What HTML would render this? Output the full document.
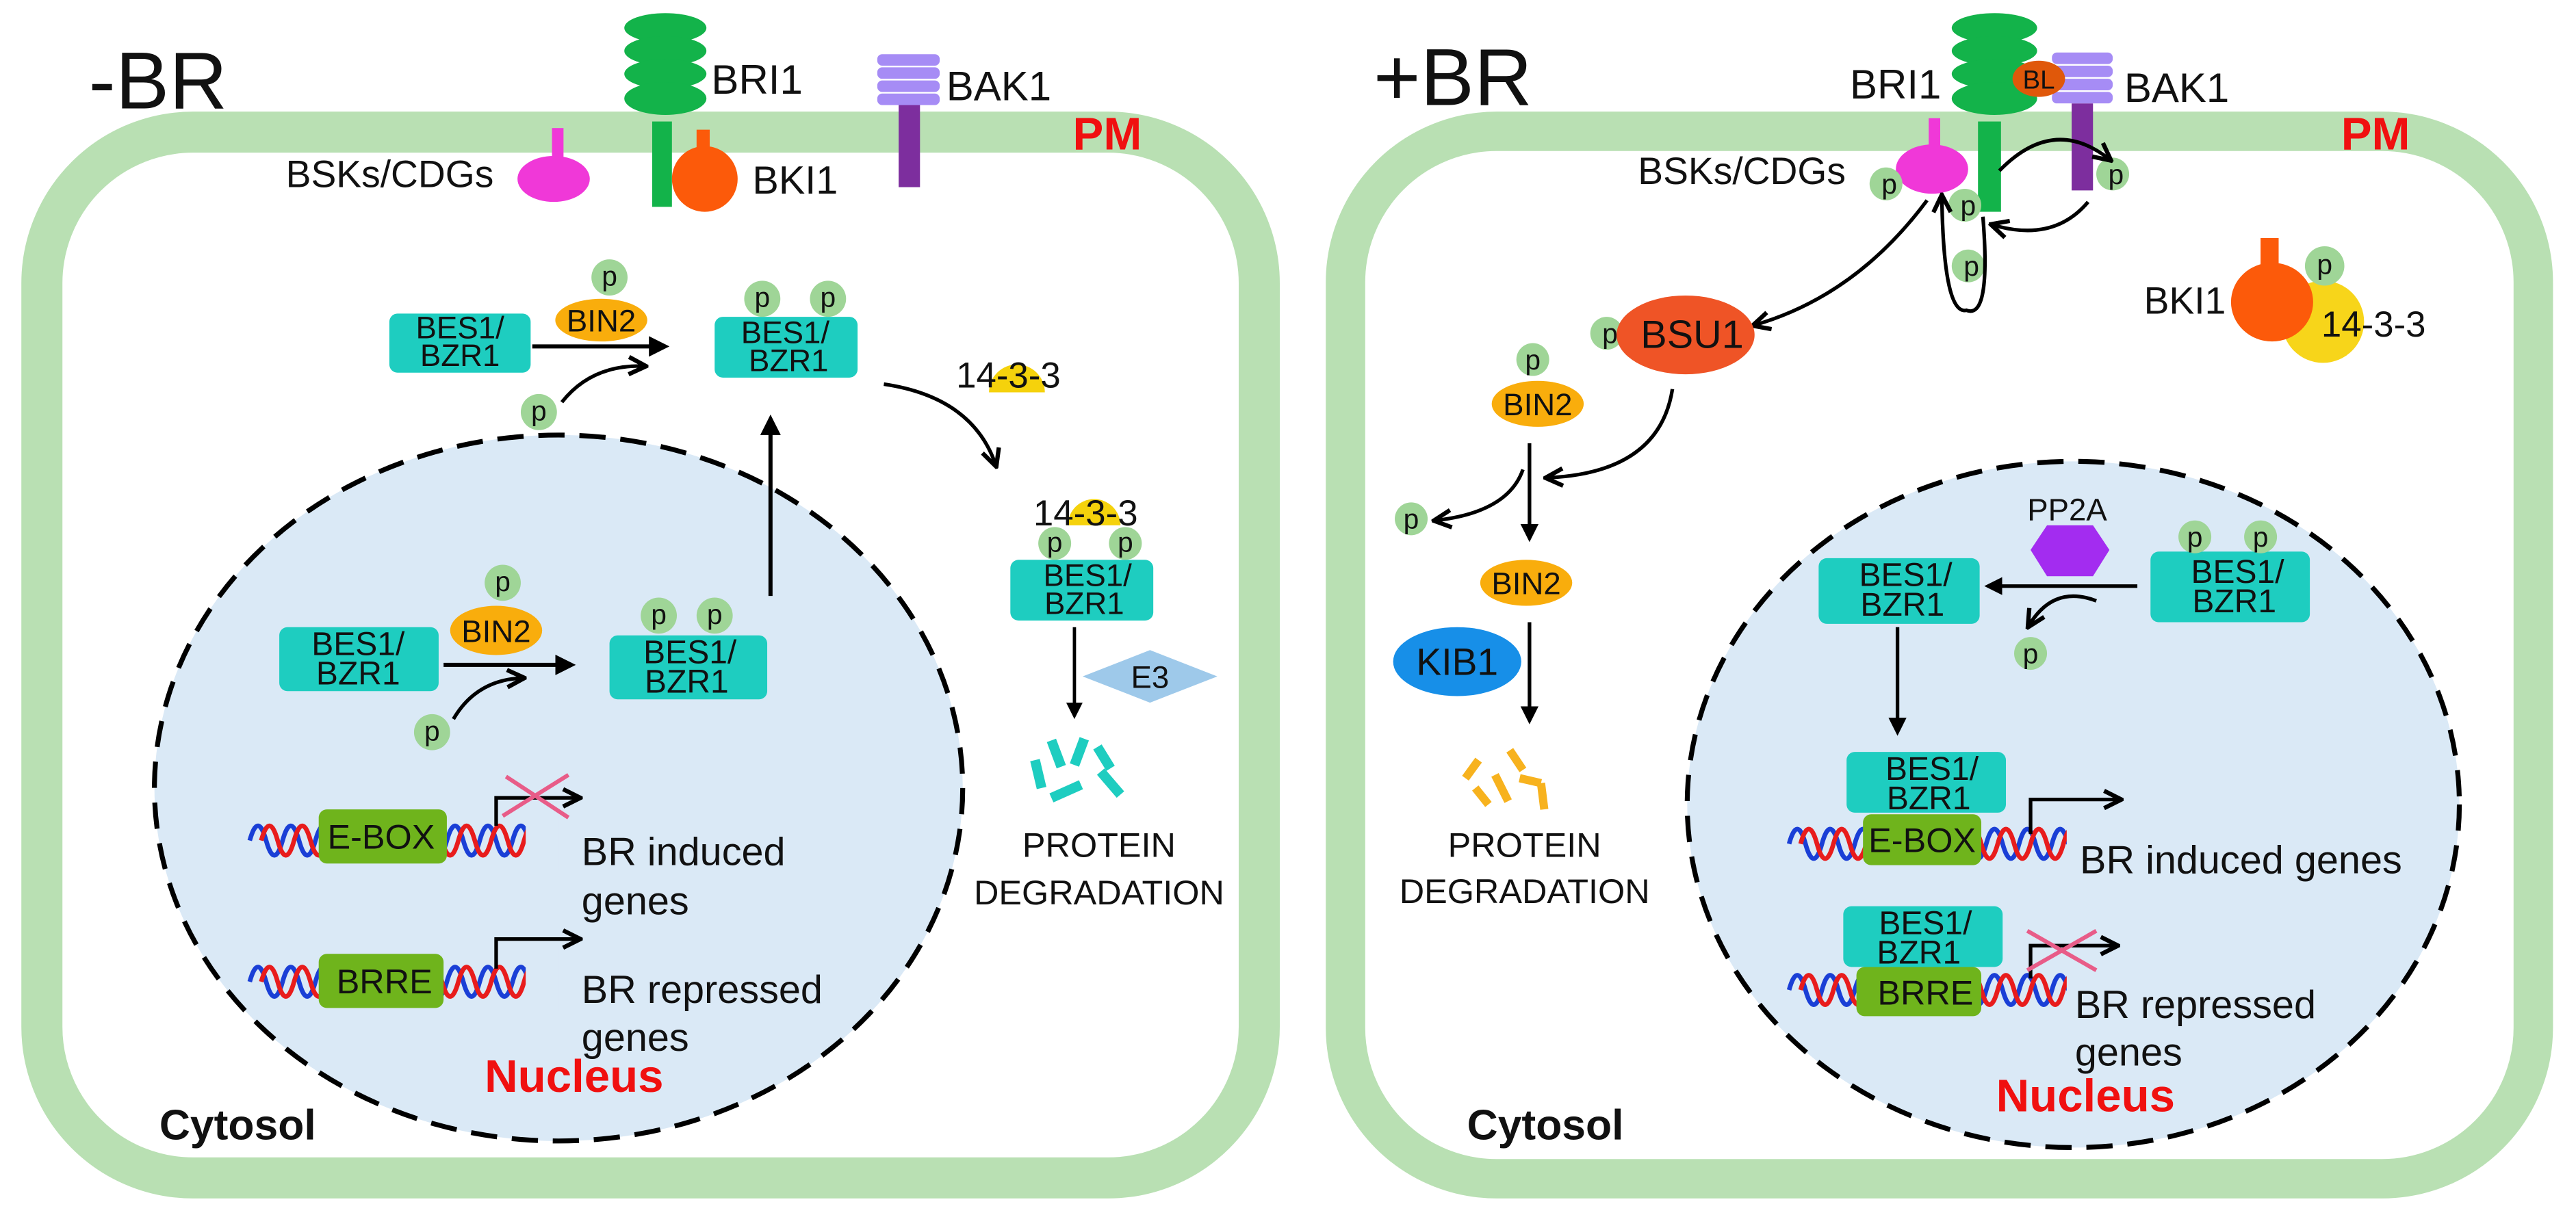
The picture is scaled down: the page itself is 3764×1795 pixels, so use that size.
<!DOCTYPE html>
<html><head><meta charset="utf-8"><style>
html,body{margin:0;padding:0;background:#fff;}
svg{display:block;}
text{font-family:"Liberation Sans",Arial,sans-serif;fill:#111;}
</style></head><body>
<svg width="3764" height="1795" viewBox="0 0 1568 748" preserveAspectRatio="none" xmlns="http://www.w3.org/2000/svg">
<defs>
<marker id="a" viewBox="0 0 10 10" refX="8" refY="5" markerWidth="5" markerHeight="5" orient="auto"><path d="M0,0 L10,5 L0,10 z" fill="#000"/></marker>
<marker id="o" viewBox="0 0 10 10" refX="8" refY="5" markerWidth="6" markerHeight="6" orient="auto"><path d="M1,1 L9,5 L1,9" fill="none" stroke="#000" stroke-width="2"/></marker>
<path id="hx" d="M0,0 q5,-18 10,0 t10,0 t10,0 t10,0 t10,0 t10,0 t10,0 t10,0 t10,0 t10,0 t10,0 t10,0 t10,0 t10,0 t10,0 t10,0 t10,0"/>
</defs>

<!-- ===== LEFT CELL ===== -->
<rect x="25.5" y="80.5" width="741" height="637" rx="92" fill="#fff" stroke="#b9e0b3" stroke-width="25"/>
<ellipse cx="340" cy="480" rx="246" ry="215" fill="#dae9f6" stroke="#000" stroke-width="3" stroke-dasharray="16,9"/>
<text x="54" y="66" font-size="49">-BR</text>
<!-- BRI1 -->
<rect x="397" y="74" width="12" height="52" fill="#13b34a"/>
<g fill="#13b34a"><ellipse cx="405" cy="17" rx="25" ry="9"/><ellipse cx="405" cy="31" rx="25" ry="9"/><ellipse cx="405" cy="45" rx="25" ry="9"/><ellipse cx="405" cy="60" rx="25" ry="10"/></g>
<text x="433" y="57" font-size="25">BRI1</text>
<!-- BKI1 -->
<rect x="424" y="79" width="8" height="16" fill="#fc5a0a"/>
<circle cx="429" cy="109" r="20" fill="#fc5a0a"/>
<text x="458" y="118" font-size="24">BKI1</text>
<!-- BAK1 -->
<rect x="547" y="63" width="13" height="51" fill="#7d2e9e"/>
<g fill="#a68cf5"><rect x="534" y="33" width="38" height="7" rx="3"/><rect x="534" y="41" width="38" height="7" rx="3"/><rect x="534" y="49" width="38" height="7" rx="3"/><rect x="534" y="57" width="38" height="7" rx="3"/></g>
<text x="576" y="61" font-size="25">BAK1</text>
<text x="653" y="91" font-size="28" font-weight="bold" style="fill:#f01010">PM</text>
<!-- BSK -->
<rect x="336" y="78" width="7" height="20" fill="#f038d8"/>
<ellipse cx="337" cy="109" rx="22" ry="14" fill="#f038d8"/>
<text x="174" y="114" font-size="23">BSKs/CDGs</text>

<!-- top cytosol complex -->
<rect x="237" y="191" width="86" height="36" rx="5" fill="#1ecdc0"/>
<text x="280" y="206" font-size="19" text-anchor="middle">BES1/</text><text x="280" y="223" font-size="19" text-anchor="middle">BZR1</text>
<circle cx="371" cy="169" r="11" fill="#9fd597"/><text x="371" y="174" font-size="17" text-anchor="middle">p</text>
<ellipse cx="366" cy="195" rx="28" ry="13" fill="#f9ad0c"/><text x="366" y="202" font-size="19" text-anchor="middle">BIN2</text>
<line x1="324" y1="211" x2="405" y2="211" stroke="#000" stroke-width="2.5" marker-end="url(#a)"/>
<circle cx="328" cy="251" r="11" fill="#9fd597"/><text x="328" y="256" font-size="17" text-anchor="middle">p</text>
<path d="M342,245 Q360,222 392,223" fill="none" stroke="#000" stroke-width="2.2" marker-end="url(#o)"/>
<rect x="435" y="193" width="87" height="37" rx="5" fill="#1ecdc0"/>
<circle cx="464" cy="182" r="11" fill="#9fd597"/><text x="464" y="187" font-size="17" text-anchor="middle">p</text>
<circle cx="504" cy="182" r="11" fill="#9fd597"/><text x="504" y="187" font-size="17" text-anchor="middle">p</text>
<text x="478" y="209" font-size="19" text-anchor="middle">BES1/</text><text x="480" y="226" font-size="19" text-anchor="middle">BZR1</text>
<path d="M538,234 Q592,242 606,283" fill="none" stroke="#000" stroke-width="2.2" marker-end="url(#o)"/>
<path d="M602,239 A17,17 0 0 1 636,239 z" fill="#f5d20c"/>
<text x="582" y="236" font-size="22">14-3-3</text>
<!-- degraded complex -->
<path d="M650,320 A16,16 0 0 1 682,320 z" fill="#f5d20c"/>
<text x="629" y="320" font-size="22">14-3-3</text>
<circle cx="642" cy="331" r="10" fill="#9fd597"/><text x="642" y="336" font-size="17" text-anchor="middle">p</text>
<circle cx="685" cy="331" r="10" fill="#9fd597"/><text x="685" y="336" font-size="17" text-anchor="middle">p</text>
<rect x="615" y="341" width="87" height="37" rx="5" fill="#1ecdc0"/>
<text x="662" y="357" font-size="19" text-anchor="middle">BES1/</text><text x="660" y="374" font-size="19" text-anchor="middle">BZR1</text>
<line x1="654" y1="382" x2="654" y2="436" stroke="#000" stroke-width="2" marker-end="url(#a)"/>
<path d="M659,412 L700,396 L741,412 L700,428 z" fill="#9ec9ea"/>
<text x="700" y="419" font-size="19" text-anchor="middle">E3</text>
<g stroke="#1ecdc0" stroke-width="6"><line x1="640" y1="451" x2="646" y2="467"/><line x1="660" y1="450" x2="654" y2="466"/><line x1="668" y1="455" x2="676" y2="468"/><line x1="670" y1="470" x2="682" y2="484"/><line x1="640" y1="486" x2="658" y2="478"/><line x1="630" y1="463" x2="634" y2="480"/></g>
<text x="669" y="522" font-size="21" text-anchor="middle">PROTEIN</text>
<text x="669" y="551" font-size="21" text-anchor="middle">DEGRADATION</text>

<!-- nucleus left content -->
<rect x="170" y="382" width="97" height="39" rx="5" fill="#1ecdc0"/>
<text x="218" y="399" font-size="20" text-anchor="middle">BES1/</text><text x="218" y="417" font-size="20" text-anchor="middle">BZR1</text>
<circle cx="306" cy="355" r="11" fill="#9fd597"/><text x="306" y="360" font-size="17" text-anchor="middle">p</text>
<ellipse cx="302" cy="384" rx="28" ry="15" fill="#f9ad0c"/><text x="302" y="391" font-size="19" text-anchor="middle">BIN2</text>
<line x1="270" y1="405" x2="348" y2="405" stroke="#000" stroke-width="2.5" marker-end="url(#a)"/>
<circle cx="263" cy="446" r="11" fill="#9fd597"/><text x="263" y="451" font-size="17" text-anchor="middle">p</text>
<path d="M276,438 Q290,414 318,413" fill="none" stroke="#000" stroke-width="2.2" marker-end="url(#o)"/>
<rect x="371" y="387" width="96" height="39" rx="5" fill="#1ecdc0"/>
<circle cx="401" cy="375" r="11" fill="#9fd597"/><text x="401" y="380" font-size="17" text-anchor="middle">p</text>
<circle cx="435" cy="375" r="11" fill="#9fd597"/><text x="435" y="380" font-size="17" text-anchor="middle">p</text>
<text x="420" y="404" font-size="20" text-anchor="middle">BES1/</text><text x="418" y="422" font-size="20" text-anchor="middle">BZR1</text>
<line x1="469" y1="363" x2="469" y2="255" stroke="#000" stroke-width="2.5" marker-end="url(#a)"/>
<!-- DNA -->
<g fill="none" stroke-width="2.8">
<use href="#hx" x="152" y="512" stroke="#1a3fd6"/>
<use href="#hx" x="159" y="512" stroke="#e81c1c"/>
<use href="#hx" x="152" y="598" stroke="#1a3fd6"/>
<use href="#hx" x="159" y="598" stroke="#e81c1c"/>
<rect x="320" y="490" width="20" height="40" fill="#dae9f6" stroke="none"/>
<rect x="320" y="576" width="20" height="40" fill="#dae9f6" stroke="none"/>
</g>
<rect x="194" y="493" width="78" height="33" rx="5" fill="#6fb41c"/><text x="232" y="517" font-size="21" text-anchor="middle">E-BOX</text>
<rect x="194" y="581" width="76" height="33" rx="5" fill="#6fb41c"/><text x="234" y="605" font-size="21" text-anchor="middle">BRRE</text>
<path d="M302,503 V486 H352" fill="none" stroke="#000" stroke-width="2.2" marker-end="url(#o)"/>
<g stroke="#e85c88" stroke-width="2.5"><line x1="308" y1="473" x2="346" y2="498"/><line x1="306" y1="497" x2="346" y2="472"/></g>
<path d="M302,590 V572 H352" fill="none" stroke="#000" stroke-width="2.2" marker-end="url(#o)"/>
<text x="354" y="527" font-size="24">BR induced</text><text x="354" y="557" font-size="24">genes</text>
<text x="354" y="611" font-size="24">BR repressed</text><text x="354" y="640" font-size="24">genes</text>
<text x="295" y="665" font-size="28" font-weight="bold" style="fill:#f01010">Nucleus</text>
<text x="97" y="694" font-size="26" font-weight="bold">Cytosol</text>

<!-- ===== RIGHT CELL ===== -->
<rect x="819" y="80" width="723" height="638" rx="92" fill="#fff" stroke="#b9e0b3" stroke-width="24"/>
<ellipse cx="1262" cy="490" rx="235" ry="209" fill="#dae9f6" stroke="#000" stroke-width="3" stroke-dasharray="16,9"/>
<text x="836" y="64" font-size="49">+BR</text>
<!-- BRI1 -->
<rect x="1204" y="74" width="14" height="55" fill="#13b34a"/>
<g fill="#13b34a"><ellipse cx="1214" cy="17" rx="26" ry="9"/><ellipse cx="1214" cy="31" rx="26" ry="9"/><ellipse cx="1214" cy="45" rx="26" ry="9"/><ellipse cx="1214" cy="60" rx="26" ry="10"/></g>
<text x="1126" y="60" font-size="25">BRI1</text>
<!-- BAK1 -->
<rect x="1261" y="63" width="13" height="53" fill="#7d2e9e"/>
<g fill="#a68cf5"><rect x="1249" y="32" width="37" height="7" rx="3"/><rect x="1249" y="40" width="37" height="7" rx="3"/><rect x="1249" y="48" width="37" height="7" rx="3"/><rect x="1249" y="56" width="37" height="7" rx="3"/></g>
<ellipse cx="1241" cy="48" rx="16" ry="11" fill="#e0580a"/><text x="1241" y="54" font-size="16" text-anchor="middle">BL</text>
<text x="1293" y="62" font-size="25">BAK1</text>
<text x="1425" y="91" font-size="28" font-weight="bold" style="fill:#f01010">PM</text>
<!-- BSK -->
<rect x="1174" y="72" width="7" height="18" fill="#f038d8"/>
<ellipse cx="1176" cy="103" rx="22" ry="15" fill="#f038d8"/>
<text x="997" y="112" font-size="23">BSKs/CDGs</text>
<g fill="#9fd597"><circle cx="1148" cy="112" r="10"/><circle cx="1286" cy="106" r="10"/><circle cx="1196" cy="125" r="10"/><circle cx="1198" cy="162" r="10"/><circle cx="978" cy="203" r="10"/></g>
<g font-size="17" text-anchor="middle"><text x="1150" y="118">p</text><text x="1288" y="112">p</text><text x="1198" y="131">p</text><text x="1200" y="168">p</text><text x="980" y="209">p</text></g>
<path d="M1217,104 Q1250,70 1284,97" fill="none" stroke="#000" stroke-width="2.2" marker-end="url(#o)"/>
<path d="M1271,123 Q1250,148 1213,137" fill="none" stroke="#000" stroke-width="2.2" marker-end="url(#o)"/>
<path d="M1207,132 Q1212,195 1197,189 Q1183,192 1182,120" fill="none" stroke="#000" stroke-width="2.2" marker-end="url(#o)"/>
<path d="M1173,122 Q1130,180 1068,198" fill="none" stroke="#000" stroke-width="2.2" marker-end="url(#o)"/>
<ellipse cx="1026" cy="204" rx="42" ry="24" fill="#ef5426"/><text x="1030" y="212" font-size="24" text-anchor="middle">BSU1</text>
<!-- BKI1 right -->
<circle cx="1414" cy="196" r="25" fill="#f7d51a"/>
<rect x="1376" y="145" width="11" height="25" fill="#fc5a0a"/>
<ellipse cx="1383" cy="184" rx="25" ry="24" fill="#fc5a0a"/>
<circle cx="1415" cy="162" r="12" fill="#9fd597"/><text x="1415" y="167" font-size="17" text-anchor="middle">p</text>
<text x="1305" y="191" font-size="23">BKI1</text>
<text x="1413" y="205" font-size="22">14-3-3</text>
<!-- BIN2 path -->
<circle cx="933" cy="219" r="10" fill="#9fd597"/><text x="933" y="225" font-size="17" text-anchor="middle">p</text>
<ellipse cx="936" cy="246" rx="28" ry="14" fill="#f9ad0c"/><text x="936" y="253" font-size="19" text-anchor="middle">BIN2</text>
<line x1="931" y1="270" x2="931" y2="328" stroke="#000" stroke-width="2.2" marker-end="url(#a)"/>
<path d="M1018,237 Q1010,288 942,291" fill="none" stroke="#000" stroke-width="2.2" marker-end="url(#o)"/>
<path d="M927,286 Q918,312 874,317" fill="none" stroke="#000" stroke-width="2.2" marker-end="url(#o)"/>
<circle cx="859" cy="316" r="10" fill="#9fd597"/><text x="859" y="322" font-size="17" text-anchor="middle">p</text>
<ellipse cx="929" cy="355" rx="28" ry="14" fill="#f9ad0c"/><text x="929" y="362" font-size="19" text-anchor="middle">BIN2</text>
<ellipse cx="887" cy="403" rx="39" ry="21" fill="#178fe8"/><text x="887" y="411" font-size="23" text-anchor="middle">KIB1</text>
<line x1="931" y1="379" x2="931" y2="439" stroke="#000" stroke-width="2.2" marker-end="url(#a)"/>
<g stroke="#f7b21e" stroke-width="5"><line x1="900" y1="463" x2="892" y2="474"/><line x1="919" y1="457" x2="927" y2="469"/><line x1="910" y1="472" x2="918" y2="488"/><line x1="925" y1="474" x2="938" y2="477"/><line x1="938" y1="477" x2="940" y2="493"/><line x1="898" y1="480" x2="906" y2="490"/></g>
<text x="928" y="522" font-size="21" text-anchor="middle">PROTEIN</text>
<text x="928" y="550" font-size="21" text-anchor="middle">DEGRADATION</text>
<!-- nucleus right -->
<text x="1234" y="317" font-size="19">PP2A</text>
<path d="M1246,320 L1274,320 L1284,335 L1274,351 L1246,351 L1236,335 z" fill="#a32cf0"/>
<rect x="1107" y="340" width="98" height="40" rx="5" fill="#1ecdc0"/>
<text x="1160" y="357" font-size="20" text-anchor="middle">BES1/</text><text x="1158" y="375" font-size="20" text-anchor="middle">BZR1</text>
<rect x="1309" y="336" width="97" height="43" rx="5" fill="#1ecdc0"/>
<circle cx="1336" cy="327" r="10" fill="#9fd597"/><text x="1336" y="333" font-size="17" text-anchor="middle">p</text>
<circle cx="1376" cy="327" r="10" fill="#9fd597"/><text x="1376" y="333" font-size="17" text-anchor="middle">p</text>
<text x="1362" y="355" font-size="20" text-anchor="middle">BES1/</text><text x="1360" y="373" font-size="20" text-anchor="middle">BZR1</text>
<line x1="1301" y1="357" x2="1210" y2="357" stroke="#000" stroke-width="2.2" marker-end="url(#a)"/>
<path d="M1276,366 Q1250,356 1235,381" fill="none" stroke="#000" stroke-width="2.2" marker-end="url(#o)"/>
<circle cx="1236" cy="398" r="10" fill="#9fd597"/><text x="1236" y="404" font-size="17" text-anchor="middle">p</text>
<line x1="1155" y1="382" x2="1155" y2="446" stroke="#000" stroke-width="2.2" marker-end="url(#a)"/>
<g fill="none" stroke-width="2.8">
<use href="#hx" x="1089" y="514" stroke="#1a3fd6"/>
<use href="#hx" x="1096" y="514" stroke="#e81c1c"/>
<use href="#hx" x="1089" y="603" stroke="#1a3fd6"/>
<use href="#hx" x="1096" y="603" stroke="#e81c1c"/>
<rect x="1258" y="490" width="30" height="40" fill="#dae9f6" stroke="none"/>
<rect x="1258" y="579" width="30" height="40" fill="#dae9f6" stroke="none"/>
</g>
<rect x="1124" y="458" width="97" height="37" rx="5" fill="#1ecdc0"/>
<text x="1176" y="475" font-size="20" text-anchor="middle">BES1/</text><text x="1174" y="493" font-size="20" text-anchor="middle">BZR1</text>
<rect x="1134" y="496" width="72" height="31" rx="5" fill="#6fb41c"/><text x="1170" y="519" font-size="21" text-anchor="middle">E-BOX</text>
<rect x="1122" y="552" width="97" height="37" rx="5" fill="#1ecdc0"/>
<text x="1172" y="569" font-size="20" text-anchor="middle">BES1/</text><text x="1168" y="587" font-size="20" text-anchor="middle">BZR1</text>
<rect x="1130" y="589" width="76" height="30" rx="5" fill="#6fb41c"/><text x="1172" y="612" font-size="21" text-anchor="middle">BRRE</text>
<path d="M1236,508 V487 H1290" fill="none" stroke="#000" stroke-width="2.2" marker-end="url(#o)"/>
<path d="M1236,596 V576 H1288" fill="none" stroke="#000" stroke-width="2.2" marker-end="url(#o)"/>
<g stroke="#e85c88" stroke-width="2.5"><line x1="1234" y1="567" x2="1276" y2="591"/><line x1="1234" y1="591" x2="1276" y2="567"/></g>
<text x="1266" y="532" font-size="24">BR induced genes</text>
<text x="1263" y="620" font-size="24">BR repressed</text><text x="1263" y="649" font-size="24">genes</text>
<text x="1215" y="677" font-size="28" font-weight="bold" style="fill:#f01010">Nucleus</text>
<text x="893" y="694" font-size="26" font-weight="bold">Cytosol</text>
</svg>
</body></html>
